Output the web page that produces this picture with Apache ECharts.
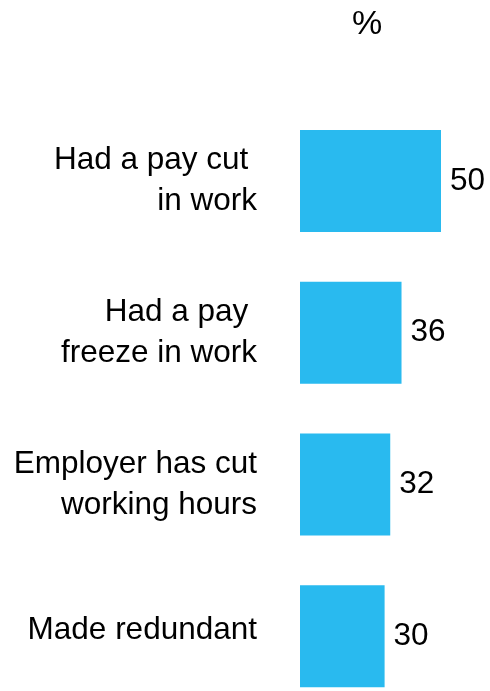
<!DOCTYPE html>
<html>
<head>
<meta charset="utf-8">
<script src="https://cdn.jsdelivr.net/npm/echarts@6/dist/echarts.min.js"></script>
<style>
  html, body { margin: 0; padding: 0; background: #ffffff; }
  #chart { width: 490px; height: 691px; }
</style>
</head>
<body>
<div id="chart"></div>
<script>
// Share of respondents affected, in percent
const categories = [
  'Had a pay cut \nin work',
  'Had a pay \nfreeze in work',
  'Employer has cut\nworking hours',
  'Made redundant'
];
const values = [50, 36, 32, 30];
const unitLabel = '%';

const FONT = '"Liberation Sans", Arial, sans-serif';
const BAR_COLOR = '#29BAEF';

const chart = echarts.init(document.getElementById('chart'), null, { renderer: 'canvas' });

chart.setOption({
  animation: false,
  backgroundColor: '#ffffff',
  title: {
    text: unitLabel,
    left: 347,
    top: 3,
    textStyle: { fontFamily: FONT, fontSize: 34, fontWeight: 'normal', color: '#000000' }
  },
  // the last band runs past the bottom edge, so the grid is not clamped to the canvas
  grid: { left: 300, top: 105, width: 141, height: 607, containLabel: false, outerBoundsMode: 'none' },
  xAxis: {
    type: 'value',
    min: 0,
    max: 50,
    show: false
  },
  yAxis: {
    type: 'category',
    inverse: true,
    data: categories,
    axisLine: { show: false },
    axisTick: { show: false },
    splitLine: { show: false },
    axisLabel: {
      margin: 43,
      fontFamily: FONT,
      fontSize: 31.5,
      lineHeight: 41,
      color: '#000000',
      formatter: function (v) {
        // single-line labels sit slightly above the bar centre
        return v.indexOf('\n') < 0 ? '{one|' + v + '}' : v;
      },
      rich: {
        one: { fontFamily: FONT, fontSize: 31.5, lineHeight: 41, color: '#000000', padding: [0, 0, 12, 0] }
      }
    }
  },
  series: [{
    type: 'bar',
    data: values,
    barWidth: 102,
    itemStyle: { color: BAR_COLOR },
    label: {
      show: true,
      position: 'right',
      distance: 9,
      fontFamily: FONT,
      fontSize: 31.5,
      color: '#000000'
    }
  }]
});
</script>
</body>
</html>
